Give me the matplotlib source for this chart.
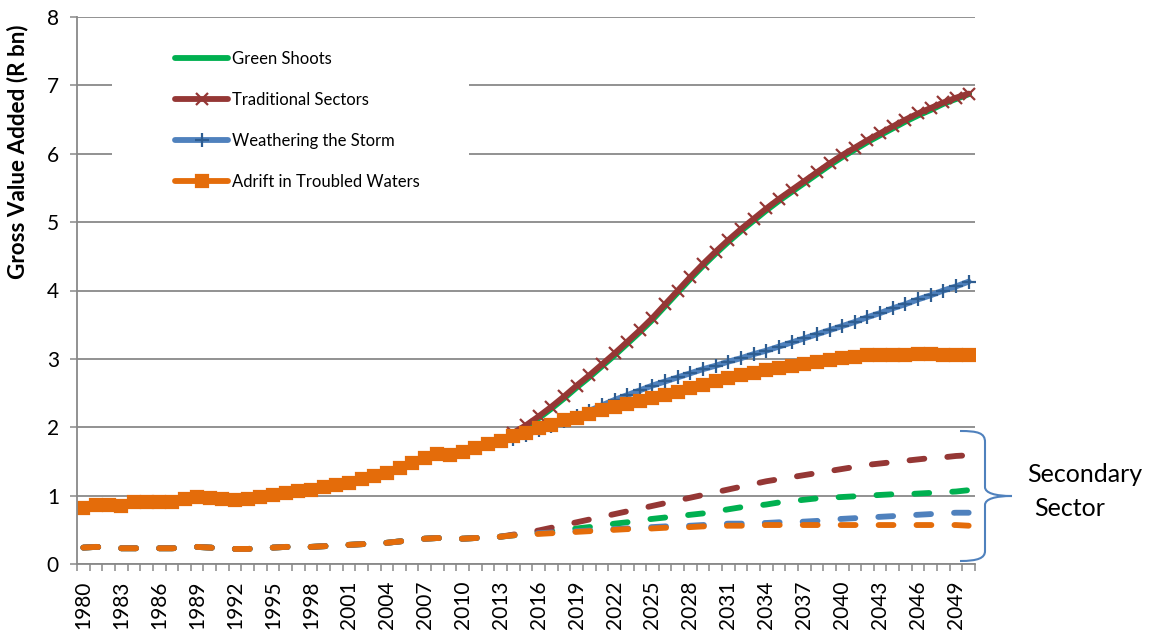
#!/usr/bin/env python3
import matplotlib
matplotlib.use('Agg')
import matplotlib.pyplot as plt
from matplotlib.path import Path
from matplotlib.patches import PathPatch, Rectangle
import numpy as np

years = list(range(1980, 2051))

# shared history 1980-2013 (total GVA)
history = [0.82, 0.87, 0.86, 0.85, 0.90, 0.90, 0.90, 0.91, 0.95, 0.98,
           0.97, 0.95, 0.93, 0.95, 0.98, 1.01, 1.04, 1.07, 1.08, 1.12,
           1.16, 1.19, 1.24, 1.28, 1.33, 1.40, 1.47, 1.55, 1.61, 1.60,
           1.64, 1.69, 1.75, 1.80]

# scenarios 2014-2050
green_shoots = [1.91, 2.01, 2.13, 2.27, 2.42, 2.58, 2.73, 2.89, 3.05, 3.22,
                3.39, 3.57, 3.77, 3.97, 4.17, 4.36, 4.54, 4.71, 4.87, 5.02,
                5.17, 5.31, 5.44, 5.57, 5.70, 5.83, 5.95, 6.06, 6.17, 6.27,
                6.37, 6.47, 6.56, 6.64, 6.73, 6.80, 6.87]
traditional = [1.92, 2.03, 2.16, 2.30, 2.45, 2.61, 2.76, 2.92, 3.08, 3.25,
               3.42, 3.60, 3.80, 4.00, 4.20, 4.39, 4.57, 4.74, 4.90, 5.05,
               5.20, 5.34, 5.47, 5.60, 5.73, 5.86, 5.98, 6.09, 6.20, 6.30,
               6.40, 6.50, 6.59, 6.67, 6.75, 6.82, 6.88]
weathering = [1.83, 1.89, 1.96, 2.02, 2.09, 2.16, 2.24, 2.32, 2.40, 2.47,
              2.54, 2.61, 2.67, 2.73, 2.79, 2.85, 2.90, 2.96, 3.01, 3.07,
              3.12, 3.18, 3.24, 3.30, 3.36, 3.42, 3.48, 3.54, 3.61, 3.67,
              3.74, 3.80, 3.87, 3.93, 4.00, 4.06, 4.13]
adrift = [1.87, 1.92, 1.99, 2.04, 2.10, 2.14, 2.19, 2.25, 2.30, 2.34,
          2.38, 2.43, 2.47, 2.52, 2.57, 2.62, 2.67, 2.72, 2.76, 2.79,
          2.83, 2.87, 2.90, 2.93, 2.96, 2.99, 3.01, 3.03, 3.05, 3.06,
          3.06, 3.06, 3.07, 3.07, 3.06, 3.06, 3.05]

# secondary sector, history 1980-2013
sec_history = [0.24, 0.25, 0.24, 0.23, 0.23, 0.23, 0.23, 0.23, 0.24, 0.25,
               0.24, 0.23, 0.22, 0.22, 0.23, 0.24, 0.25, 0.25, 0.25, 0.26,
               0.27, 0.28, 0.29, 0.30, 0.31, 0.33, 0.35, 0.37, 0.38, 0.37,
               0.37, 0.38, 0.39, 0.40]
sec_green = [0.42, 0.44, 0.46, 0.48, 0.50, 0.52, 0.54, 0.56, 0.59, 0.61,
             0.64, 0.66, 0.68, 0.70, 0.72, 0.74, 0.77, 0.80, 0.83, 0.85,
             0.87, 0.90, 0.92, 0.94, 0.96, 0.97, 0.98, 0.99, 1.00, 1.01,
             1.02, 1.02, 1.03, 1.04, 1.05, 1.06, 1.08]
sec_traditional = [0.43, 0.46, 0.49, 0.53, 0.57, 0.61, 0.65, 0.69, 0.73, 0.77,
                   0.81, 0.85, 0.89, 0.93, 0.97, 1.01, 1.05, 1.09, 1.13, 1.17,
                   1.21, 1.24, 1.27, 1.30, 1.33, 1.36, 1.39, 1.42, 1.45, 1.47,
                   1.49, 1.51, 1.53, 1.55, 1.56, 1.58, 1.59]
sec_weathering = [0.42, 0.43, 0.45, 0.46, 0.47, 0.48, 0.49, 0.50, 0.51, 0.52,
                  0.53, 0.54, 0.55, 0.55, 0.56, 0.57, 0.58, 0.59, 0.59, 0.60,
                  0.60, 0.61, 0.61, 0.62, 0.63, 0.65, 0.66, 0.67, 0.68, 0.69,
                  0.70, 0.71, 0.72, 0.73, 0.74, 0.75, 0.75]
sec_adrift = [0.42, 0.43, 0.44, 0.45, 0.46, 0.47, 0.48, 0.49, 0.50, 0.51,
              0.51, 0.52, 0.53, 0.53, 0.54, 0.55, 0.55, 0.56, 0.56, 0.56,
              0.57, 0.57, 0.57, 0.57, 0.57, 0.57, 0.57, 0.57, 0.57, 0.57,
              0.57, 0.57, 0.57, 0.57, 0.57, 0.57, 0.56]

labels = ['Green Shoots', 'Traditional Sectors', 'Weathering the Storm',
          'Adrift in Troubled Waters']
colors = ['#00B050', '#953735', '#4F81BD', '#E46C0A']
marker_colors = ['#00B050', '#953735', '#2E5D91', '#E46C0A']
markers = ['_', 'x', '+', 's']
marker_sizes = [4, 9, 10, 8.5]

totals = [green_shoots, traditional, weathering, adrift]
secondary = [sec_green, sec_traditional, sec_weathering, sec_adrift]

plt.rcParams['font.family'] = ['Lato', 'DejaVu Sans']
GRAY = '#898989'

fig = plt.figure(figsize=(11.55, 6.35), dpi=100)
ax = fig.add_axes([77 / 1155, 1 - 564 / 635, 898 / 1155, 547 / 635])

x = np.arange(len(years))

for vals, c, mc, m, ms, lab in zip(totals, colors, marker_colors, markers,
                                   marker_sizes, labels):
    ax.plot(x, history + vals, color=c, lw=4.2, marker=m, ms=ms,
            mec=mc, mfc=mc, mew=1.6, label=lab, solid_capstyle='round')

for vals, c in zip(secondary, colors):
    ax.plot(x, sec_history + vals, color=c, lw=4.2, dashes=(2.55, 3.95),
            dash_capstyle='round')

ax.set_xlim(-0.5, len(years) - 0.5)
ax.set_ylim(0, 8)
ax.set_yticks(range(0, 9))
ax.set_xticks(x[::3])
ax.set_xticklabels([str(y) for y in years[::3]], rotation=90)
ax.set_xticks(np.arange(-0.5, len(years)), minor=True)
ax.tick_params(axis='x', which='major', length=0, pad=12, labelsize=15)
ax.tick_params(axis='x', which='minor', length=5, width=1.1, color=GRAY,
               direction='out')
ax.tick_params(axis='y', length=5, width=1.1, color=GRAY, pad=8,
               labelsize=15)

ax.grid(True, axis='y', color=GRAY, lw=1.3)
ax.set_axisbelow(True)
for side in ['top', 'right']:
    ax.spines[side].set_visible(False)
for side in ['left', 'bottom']:
    ax.spines[side].set_color(GRAY)
    ax.spines[side].set_linewidth(1.3)

fig.text(18 / 1155, 1 - 152 / 635, 'Gross Value Added (R bn)', rotation=90,
         fontsize=16.2, fontweight='bold', ha='center', va='center')

# white area behind the legend hides the gridlines
ax.add_patch(Rectangle((35 / 898, 359 / 547), 357 / 898, 175 / 547,
                       transform=ax.transAxes, facecolor='white',
                       edgecolor='none', zorder=1))
ax.legend(loc='upper left', bbox_to_anchor=(175 / 1155, 1 - 51 / 635),
          bbox_transform=fig.transFigure, frameon=False, fontsize=12,
          numpoints=1, handlelength=3.2, handletextpad=0.2,
          labelspacing=1.5, borderpad=0, borderaxespad=0)

# brace for the secondary sector lines
def px(xp, yp):
    return (xp / 1155, 1 - yp / 635)

verts = [px(960, 431), px(978, 431), px(985, 433), px(985, 442),
         px(985, 487),
         px(985, 493), px(995, 496), px(1012, 496),
         px(995, 496), px(985, 499), px(985, 505),
         px(985, 551),
         px(985, 558), px(978, 561), px(960, 561)]
codes = [Path.MOVETO, Path.CURVE4, Path.CURVE4, Path.CURVE4,
         Path.LINETO,
         Path.CURVE4, Path.CURVE4, Path.CURVE4,
         Path.CURVE4, Path.CURVE4, Path.CURVE4,
         Path.LINETO,
         Path.CURVE4, Path.CURVE4, Path.CURVE4]
fig.add_artist(PathPatch(Path(verts, codes), facecolor='none',
                         edgecolor='#4F81BD', lw=1.5,
                         transform=fig.transFigure))
fig.text(1027 / 1155, 1 - 475 / 635, 'Secondary', fontsize=18,
         ha='left', va='center')
fig.text(1034 / 1155, 1 - 509 / 635, 'Sector', fontsize=18,
         ha='left', va='center')

plt.savefig('out.png', dpi=100)
